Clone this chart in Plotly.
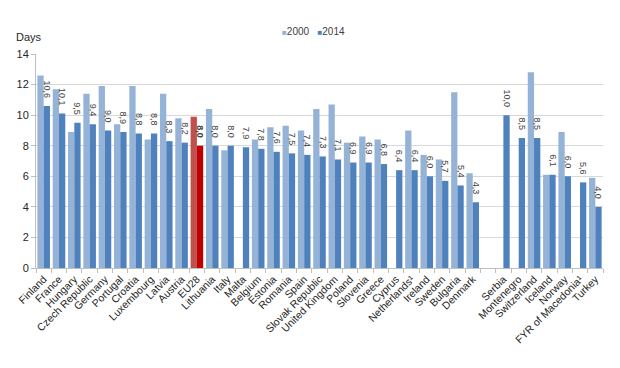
import plotly.graph_objects as go

categories = ["Finland", "France", "Hungary", "Czech Republic", "Germany", "Portugal",
              "Croatia", "Luxembourg", "Latvia", "Austria", "EU28", "Lithuania", "Italy",
              "Malta", "Belgium", "Estonia", "Romania", "Spain", "Slovak Republic",
              "United Kingdom", "Poland", "Slovenia", "Greece", "Cyprus", "Netherlands¹",
              "Ireland", "Sweden", "Bulgaria", "Denmark", " ", "Serbia", "Montenegro",
              "Switzerland", "Iceland", "Norway", "FYR of Macedonia¹", "Turkey"]

values_2000 = [12.6, 11.7, 8.9, 11.4, 11.9, 9.4, 11.9, 8.4, 11.4, 9.8, 9.9, 10.4, 7.7,
               None, 8.4, 9.2, 9.3, 9.0, 10.4, 10.7, 8.2, 8.6, 8.4, None, 9.0, 7.4, 7.1,
               11.5, 6.2, None, None, None, 12.8, 6.1, 8.9, None, 5.9]

values_2014 = [10.6, 10.1, 9.5, 9.4, 9.0, 8.9, 8.8, 8.8, 8.3, 8.2, 8.0, 8.0, 8.0, 7.9,
               7.8, 7.6, 7.5, 7.4, 7.3, 7.1, 6.9, 6.9, 6.8, 6.4, 6.4, 6.0, 5.7, 5.4, 4.3,
               None, 10.0, 8.5, 8.5, 6.1, 6.0, 5.6, 4.0]

series_names = ["2000", "2014"]
y_ticks = [0, 2, 4, 6, 8, 10, 12, 14]

LIGHT = "#95B3D7"
DARK = "#4F81BD"
col_2000 = ["#C0504D" if c == "EU28" else LIGHT for c in categories]
col_2014 = ["#C00000" if c == "EU28" else DARK for c in categories]

labels = []
for c, v in zip(categories, values_2014):
    if v is None:
        labels.append("")
    else:
        s = f"{v:.1f}".replace(".", ",")
        s = f"<b>{s}</b>" if c == "EU28" else s
        labels.append(s + "\u00a0\u00a0")

fig = go.Figure()
fig.add_trace(go.Bar(name=series_names[0], x=categories, y=values_2000,
                     marker=dict(color=col_2000, line=dict(width=0))))
fig.add_trace(go.Bar(name=series_names[1], x=categories, y=values_2014,
                     marker=dict(color=col_2014, line=dict(width=0)),
                     text=labels, textposition="outside", textangle=90,
                     constraintext="none", cliponaxis=False,
                     textfont=dict(size=9, color="#404040")))

legend_text = (f"<span style='color:{LIGHT}; font-size:8px'>■</span>{series_names[0]}"
               f"&nbsp;&nbsp;&nbsp;<span style='color:{DARK}; font-size:8px'>■</span>{series_names[1]}")

# page body has an 8px offset; margins compensate so the plot area sits at x 36-603, y 54-268
fig.update_layout(
    width=620, height=368,
    margin=dict(l=28, r=25, t=46, b=108, autoexpand=False),
    barmode="group", bargap=0.18, bargroupgap=0,
    plot_bgcolor="white", paper_bgcolor="white",
    font=dict(family="Liberation Sans, Arial, sans-serif", size=10, color="#404040"),
    showlegend=False,
    xaxis=dict(type="category", categoryorder="array", categoryarray=categories,
               tickangle=-45, tickfont=dict(size=10.5, color="#262626"),
               showline=True, linecolor="#BFBFBF", linewidth=1,
               ticks="outside", ticklen=4, tickcolor="#BFBFBF",
               tickson="boundaries", showgrid=False, automargin=False),
    yaxis=dict(range=[0, 14], tickvals=y_ticks, showgrid=True, gridcolor="#D9D9D9",
               gridwidth=1, showline=True, linecolor="#BFBFBF", ticks="outside",
               ticklen=4, tickcolor="#BFBFBF", zeroline=False, automargin=False,
               tickfont=dict(size=11, color="#262626")),
    annotations=[
        dict(text="Days", x=-0.039, xref="paper", xanchor="left", y=1.08,
             yref="paper", yanchor="middle", showarrow=False,
             font=dict(size=11, color="#262626")),
        dict(text=legend_text, x=0.489, xref="paper", xanchor="center", y=1.103,
             yref="paper", yanchor="middle", showarrow=False,
             font=dict(size=10, color="#404040")),
    ],
)

fig.write_html("out.html")
